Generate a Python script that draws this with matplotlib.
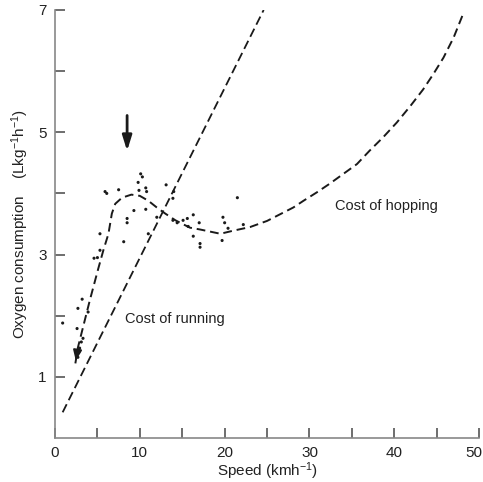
import numpy as np
import matplotlib.pyplot as plt
import matplotlib.transforms as mtransforms

plt.rcParams['font.family'] = ['Liberation Sans', 'DejaVu Sans']
plt.rcParams['mathtext.fontset'] = 'custom'
plt.rcParams['mathtext.rm'] = 'Liberation Sans'
plt.rcParams['mathtext.it'] = 'Liberation Sans'

# cost of running (straight line, read at its two ends)
run_x = [0.9, 24.6]
run_y = [0.42, 7.0]

# cost of hopping curve
hop_x = [2.4, 2.7, 3.3, 4.1, 5.1, 5.7, 6.3, 6.7, 7.1, 7.9, 9.0, 10.0, 11.0,
         12.0, 13.0, 14.2, 15.9, 17.1, 19.5, 21.0, 23.0, 25.0, 28.1, 29.3, 30.9,
         32.4, 34.0, 35.6, 37.1, 38.7, 40.3, 41.9, 43.4, 44.6, 45.8, 47.0, 48.1]
hop_y = [1.22, 1.48, 1.81, 2.25, 2.77, 3.07, 3.34, 3.67, 3.83, 3.93, 3.98, 3.96, 3.88,
         3.77, 3.67, 3.56, 3.44, 3.41, 3.34, 3.39, 3.45, 3.55, 3.77, 3.88, 4.02,
         4.16, 4.32, 4.48, 4.70, 4.92, 5.16, 5.43, 5.70, 5.95, 6.22, 6.55, 6.93]

# measured points
pts_x = [5.9, 6.1, 7.5, 9.8, 10.1, 10.3, 10.7, 10.8, 9.9, 13.1, 14.0, 13.9,
         9.3, 10.7, 8.5, 8.5, 8.1, 5.3, 4.6, 11.0, 12.0, 13.9, 14.4, 15.1,
         15.6, 16.3, 17.0, 15.7, 16.3, 17.1, 17.1, 19.8, 20.0, 20.4, 19.7,
         21.5, 22.2, 3.2, 2.7, 3.9, 0.9, 2.6, 3.3, 2.9, 2.7, 5.0, 5.3, 3.1, 2.8]
pts_y = [4.03, 4.00, 4.06, 4.18, 4.32, 4.27, 4.09, 4.03, 4.05, 4.14, 4.03, 3.92,
         3.72, 3.74, 3.59, 3.52, 3.21, 3.34, 2.94, 3.34, 3.61, 3.56, 3.52, 3.56,
         3.59, 3.65, 3.52, 3.46, 3.30, 3.18, 3.12, 3.61, 3.52, 3.43, 3.23,
         3.93, 3.49, 2.27, 2.12, 2.06, 1.88, 1.79, 1.63, 1.47, 1.32, 2.95, 3.07, 1.57, 1.40]

x_ticks = np.arange(0, 51, 5)
x_labels = ["0", "", "10", "", "20", "", "30", "", "40", "", "50"]
y_ticks = [1, 2, 3, 4, 5, 6, 7]
y_labels = ["1", "", "3", "", "5", "", "7"]

ink = "#1a1a1a"

fig = plt.figure(figsize=(4.83, 4.82), dpi=100)
ax = fig.add_axes([0.1139, 0.0913, 0.878, 0.888])

ax.plot(run_x, run_y, color=ink, lw=1.3, dashes=(5, 2.5))
ax.plot(hop_x, hop_y, color=ink, lw=1.4, dashes=(4.5, 2.5))
ax.scatter(pts_x, pts_y, s=5, color=ink, edgecolors="none", zorder=3)

# arrow head at the low-speed end of the hopping curve
ax.annotate("", xy=(hop_x[0], hop_y[0]), xytext=(hop_x[1], hop_y[1]),
            arrowprops=dict(arrowstyle="-|>,head_length=0.6,head_width=0.25",
                            color=ink, lw=1.5))
# arrow marking the gait transition
ax.annotate("", xy=(8.5, 4.65), xytext=(8.5, 5.32),
            arrowprops=dict(arrowstyle="-|>,head_length=0.9,head_width=0.28",
                            color=ink, lw=2))

ax.text(8.2, 1.94, "Cost of running", fontsize=10.5, color="#222222", va="center")
ax.text(33.0, 3.80, "Cost of hopping", fontsize=10.5, color="#222222", va="center")

ax.set_xlim(0, 50)
ax.set_ylim(0, 7)
ax.set_xticks(x_ticks)
ax.set_xticklabels(x_labels)
ax.set_yticks(y_ticks)
ax.set_yticklabels(y_labels)
ax.tick_params(axis="both", direction="in", length=7, width=1.2,
               color="#555555", labelsize=11, labelcolor="#222222")
ax.tick_params(axis="x", pad=6)
ax.tick_params(axis="y", pad=6)

# last x label sits at the right edge of the figure
last = ax.get_xticklabels()[-1]
last.set_transform(last.get_transform() +
                   mtransforms.ScaledTranslation(-4 / 72, 0, fig.dpi_scale_trans))

for side in ["top", "right"]:
    ax.spines[side].set_visible(False)
for side in ["left", "bottom"]:
    ax.spines[side].set_color("#888888")
    ax.spines[side].set_linewidth(1.2)

ax.set_xlabel("Speed (kmh$^{-1}$)", fontsize=11, color="#222222", labelpad=0)
ax.set_ylabel("Oxygen consumption    (Lkg$^{-1}$h$^{-1}$)", fontsize=11,
              color="#222222", labelpad=5)

fig.savefig("out.png", dpi=100)
